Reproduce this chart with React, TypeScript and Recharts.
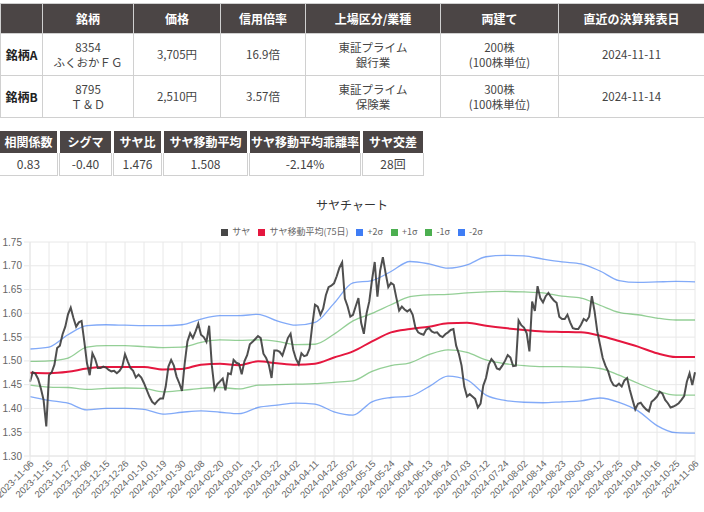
import { CartesianGrid, Line, LineChart, XAxis, YAxis } from "recharts";

const tickLabels = [
  "2023-11-06", "2023-11-15", "2023-11-27", "2023-12-06", "2023-12-15", "2023-12-26",
  "2024-01-10", "2024-01-19", "2024-01-30", "2024-02-08", "2024-02-20", "2024-03-01",
  "2024-03-12", "2024-03-22", "2024-04-02", "2024-04-11", "2024-04-22", "2024-05-02",
  "2024-05-15", "2024-05-24", "2024-06-04", "2024-06-13", "2024-06-24", "2024-07-03",
  "2024-07-12", "2024-07-24", "2024-08-02", "2024-08-14", "2024-08-23", "2024-09-03",
  "2024-09-12", "2024-09-25", "2024-10-04", "2024-10-16", "2024-10-25", "2024-11-06",
];

// サヤ (daily spread ratio), one value per trading day
const saya = [
  1.456, 1.476, 1.473, 1.462, 1.442, 1.418, 1.362, 1.47, 1.476, 1.492,
  1.527, 1.532, 1.556, 1.572, 1.598, 1.612, 1.59, 1.572, 1.581, 1.584,
  1.541, 1.495, 1.47, 1.516, 1.504, 1.485, 1.485, 1.488, 1.486, 1.481,
  1.478, 1.479, 1.474, 1.479, 1.488, 1.514, 1.499, 1.485, 1.479, 1.465,
  1.471, 1.465, 1.453, 1.439, 1.425, 1.414, 1.409, 1.416, 1.421, 1.421,
  1.446, 1.488, 1.502, 1.49, 1.467, 1.453, 1.437, 1.495, 1.541, 1.558,
  1.548, 1.562, 1.578, 1.555, 1.55, 1.54, 1.574, 1.49, 1.44, 1.451,
  1.457, 1.463, 1.438, 1.474, 1.472, 1.502, 1.496, 1.494, 1.472, 1.499,
  1.512, 1.535, 1.54, 1.546, 1.552, 1.548, 1.515, 1.506, 1.492, 1.464,
  1.522, 1.522, 1.519, 1.511, 1.529, 1.548, 1.557, 1.523, 1.504, 1.493,
  1.516, 1.51, 1.512, 1.526, 1.575, 1.618, 1.614, 1.597, 1.61, 1.638,
  1.655, 1.658, 1.663, 1.678, 1.696, 1.707, 1.631, 1.615, 1.593, 1.597,
  1.615, 1.632, 1.58, 1.557, 1.6, 1.625, 1.67, 1.708, 1.635, 1.69,
  1.718, 1.685, 1.655, 1.664, 1.66, 1.632, 1.606, 1.614, 1.608, 1.604,
  1.608, 1.597, 1.57, 1.56, 1.557, 1.555, 1.566, 1.569, 1.562, 1.559,
  1.56, 1.553, 1.55, 1.556, 1.56, 1.565, 1.567, 1.532, 1.515, 1.49,
  1.446, 1.425, 1.43, 1.425, 1.42, 1.402, 1.41, 1.448, 1.464, 1.492,
  1.504, 1.497, 1.484, 1.482, 1.49, 1.5, 1.512, 1.507, 1.489, 1.49,
  1.585, 1.575, 1.57, 1.558, 1.52, 1.625, 1.605, 1.657, 1.632, 1.623,
  1.636, 1.643, 1.634, 1.627, 1.622, 1.593, 1.588, 1.588, 1.597, 1.581,
  1.569, 1.567, 1.567, 1.576, 1.588, 1.584, 1.593, 1.636, 1.604, 1.562,
  1.534, 1.506, 1.49, 1.478, 1.459, 1.449, 1.447, 1.452, 1.446, 1.459,
  1.464, 1.439, 1.418, 1.398, 1.41, 1.412, 1.404, 1.398, 1.394, 1.414,
  1.419, 1.425, 1.435, 1.431, 1.418, 1.411, 1.402, 1.404, 1.407, 1.411,
  1.418, 1.426, 1.456, 1.474, 1.449, 1.476,
];

// bands read at every tick date (every 7th trading day)
const movingAvg = [
  1.475, 1.474, 1.477, 1.484, 1.487, 1.487, 1.487, 1.482, 1.483, 1.492, 1.494, 1.491,
  1.499, 1.495, 1.492, 1.494, 1.507, 1.52, 1.541, 1.56, 1.567, 1.572, 1.579, 1.58,
  1.574, 1.569, 1.565, 1.562, 1.561, 1.56, 1.553, 1.542, 1.53, 1.516, 1.508, 1.508,
];
const plus2 = [
  1.525, 1.529, 1.555, 1.574, 1.576, 1.575, 1.574, 1.574, 1.576, 1.588, 1.595, 1.595,
  1.598, 1.584, 1.575, 1.581, 1.621, 1.664, 1.669, 1.688, 1.709, 1.704, 1.695, 1.702,
  1.719, 1.722, 1.721, 1.714, 1.708, 1.704, 1.689, 1.669, 1.665, 1.666, 1.667, 1.666,
];
const plus1 = [
  1.499, 1.5, 1.506, 1.529, 1.532, 1.532, 1.53, 1.528, 1.529, 1.539, 1.544, 1.543,
  1.544, 1.541, 1.534, 1.535, 1.556, 1.584, 1.6, 1.618, 1.635, 1.639, 1.64, 1.643,
  1.645, 1.646, 1.645, 1.643, 1.636, 1.632, 1.617, 1.602, 1.597, 1.59, 1.586, 1.586,
];
const minus1 = [
  1.449, 1.445, 1.444, 1.44, 1.442, 1.443, 1.442, 1.435, 1.438, 1.442, 1.444, 1.441,
  1.449, 1.45, 1.451, 1.452, 1.455, 1.458, 1.478, 1.49, 1.496, 1.513, 1.523, 1.518,
  1.502, 1.494, 1.49, 1.488, 1.488, 1.487, 1.484, 1.47, 1.453, 1.437, 1.428, 1.428,
];
const minus2 = [
  1.425, 1.417, 1.411, 1.397, 1.4, 1.4, 1.398, 1.388, 1.392, 1.395, 1.392, 1.389,
  1.402, 1.407, 1.411, 1.409, 1.393, 1.386, 1.414, 1.423, 1.426, 1.446, 1.468, 1.46,
  1.428, 1.417, 1.413, 1.412, 1.414, 1.416, 1.422, 1.413, 1.395, 1.364, 1.349, 1.348,
];

const yTicks = [1.3, 1.35, 1.4, 1.45, 1.5, 1.55, 1.6, 1.65, 1.7, 1.75];

const pairHeaders = ["", "銘柄", "価格", "信用倍率", "上場区分/業種", "両建て", "直近の決算発表日"];
const pairRows = [
  ["銘柄A", "8354\nふくおかＦＧ", "3,705円", "16.9倍", "東証プライム\n銀行業", "200株\n(100株単位)", "2024-11-11"],
  ["銘柄B", "8795\nＴ＆Ｄ", "2,510円", "3.57倍", "東証プライム\n保険業", "300株\n(100株単位)", "2024-11-14"],
];
const colWidths = [42, 91, 87, 85, 135, 118, 146];

const statLabels = ["相関係数", "シグマ", "サヤ比", "サヤ移動平均", "サヤ移動平均乖離率", "サヤ交差"];
const statValues = ["0.83", "-0.40", "1.476", "1.508", "-2.14%", "28回"];
const statLefts = [0, 60, 114, 164, 250, 363];
const statWidths = [57, 51, 47, 83, 110, 60];

const legendItems = [
  { name: "サヤ", color: "#474747" },
  { name: "サヤ移動平均(75日)", color: "#e5173f" },
  { name: "+2σ", color: "#3f7df5" },
  { name: "+1σ", color: "#4caf50" },
  { name: "-1σ", color: "#4caf50" },
  { name: "-2σ", color: "#3f7df5" },
];

const chartData = saya.map((v, i) => {
  const row: Record<string, number> = { i, saya: v };
  if (i % 7 === 0) {
    const k = i / 7;
    row.ma = movingAvg[k];
    row.p2 = plus2[k];
    row.p1 = plus1[k];
    row.m1 = minus1[k];
    row.m2 = minus2[k];
  }
  return row;
});

const HEAD_BG = "#4b4545";
const JP = "'Noto Sans CJK JP', 'Noto Sans', sans-serif";
const CHART_FONT = "'Liberation Sans', Arial, 'Noto Sans CJK JP', sans-serif";

function XTick({ x, y, payload }: { x?: number; y?: number; payload?: { value: number } }) {
  const label = tickLabels[Math.round((payload?.value ?? 0) / 7)];
  return (
    <g transform={`translate(${(x ?? 0) + 2},${(y ?? 0) - 2})`}>
      <text textAnchor="end" transform="rotate(-45)" dy="0.35em" fontSize={9.5} fill="#666" fontFamily={CHART_FONT}>
        {label}
      </text>
    </g>
  );
}

function MultiLine({ text }: { text: string }) {
  const parts = text.split("\n");
  return (
    <>
      {parts.map((p, idx) => (
        <div key={idx} style={{ lineHeight: "15px", height: 15 }}>
          {p}
        </div>
      ))}
    </>
  );
}

export default function App() {
  return (
    <div
      style={{
        position: "absolute",
        left: 0,
        top: 0,
        width: 704,
        height: 512,
        background: "#fff",
        overflow: "hidden",
        fontFamily: JP,
        color: "#333",
      }}
    >
      <table
        style={{
          position: "absolute",
          top: 3,
          left: 0,
          width: 704,
          borderCollapse: "collapse",
          tableLayout: "fixed",
          fontSize: 11.5,
          lineHeight: "15px",
        }}
      >
        <colgroup>
          {colWidths.map((w, idx) => (
            <col key={idx} style={{ width: w }} />
          ))}
        </colgroup>
        <thead>
          <tr style={{ height: 30 }}>
            {pairHeaders.map((h, idx) => (
              <th
                key={idx}
                style={{
                  background: HEAD_BG,
                  color: "#fff",
                  border: "1px solid #d0d0d0",
                  fontWeight: 700,
                  fontSize: 12,
                  padding: 0,
                }}
              >
                {h}
              </th>
            ))}
          </tr>
        </thead>
        <tbody>
          {pairRows.map((row, r) => (
            <tr key={r} style={{ height: 42 }}>
              {row.map((cell, c) => (
                <td
                  key={c}
                  style={{
                    border: "1px solid #d0d0d0",
                    textAlign: "center",
                    padding: 0,
                    fontWeight: c === 0 ? 700 : 400,
                    fontSize: c === 0 ? 12 : 11.5,
                    color: c === 0 ? "#222" : "#444",
                  }}
                >
                  <MultiLine text={cell} />
                </td>
              ))}
            </tr>
          ))}
        </tbody>
      </table>

      {statLabels.map((label, idx) => (
        <div
          key={label}
          style={{ position: "absolute", top: 131, left: statLefts[idx], width: statWidths[idx], fontSize: 12 }}
        >
          <div
            style={{
              height: 22,
              lineHeight: "22px",
              background: HEAD_BG,
              color: "#fff",
              fontWeight: 700,
              textAlign: "center",
              whiteSpace: "nowrap",
            }}
          >
            {label}
          </div>
          <div
            style={{
              height: 22,
              lineHeight: "22px",
              border: "1px solid #d0d0d0",
              borderTop: "none",
              textAlign: "center",
              color: "#444",
              boxSizing: "content-box",
              marginLeft: -1,
              marginRight: -1,
            }}
          >
            {statValues[idx]}
          </div>
        </div>
      ))}

      <div
        style={{
          position: "absolute",
          top: 196,
          left: 0,
          width: 704,
          textAlign: "center",
          fontSize: 12,
          lineHeight: "18px",
          color: "#333",
        }}
      >
        サヤチャート
      </div>

      <div
        style={{
          position: "absolute",
          top: 225,
          left: 0,
          width: 704,
          height: 14,
          display: "flex",
          justifyContent: "center",
          alignItems: "center",
          gap: 8,
          fontSize: 9,
          color: "#666",
        }}
      >
        {legendItems.map((item) => (
          <div key={item.name} style={{ display: "flex", alignItems: "center" }}>
            <span style={{ display: "inline-block", width: 7, height: 7, background: item.color, marginRight: 4 }} />
            <span style={{ lineHeight: "12px" }}>{item.name}</span>
          </div>
        ))}
      </div>

      <div style={{ position: "absolute", top: 192, left: 0 }}>
        <LineChart width={704} height={320} data={chartData} margin={{ top: 50, right: 9, left: 0, bottom: 0 }}>
          <CartesianGrid stroke="#e8e8e8" />
          <XAxis
            dataKey="i"
            type="number"
            domain={[0, 245]}
            ticks={tickLabels.map((_, k) => k * 7)}
            interval={0}
            height={56}
            tick={<XTick />}
            tickSize={8}
            tickMargin={0}
            tickLine={{ stroke: "#e8e8e8" }}
            axisLine={{ stroke: "#e8e8e8" }}
          />
          <YAxis
            type="number"
            domain={[1.3, 1.75]}
            ticks={yTicks}
            interval={0}
            width={30}
            tickFormatter={(v) => Number(v).toFixed(2)}
            tick={{ fontSize: 10, fill: "#666", fontFamily: CHART_FONT }}
            tickSize={6}
            tickMargin={2}
            tickLine={{ stroke: "#e8e8e8" }}
            axisLine={{ stroke: "#e8e8e8" }}
          />
          <Line dataKey="m2" type="monotone" stroke="rgba(63,125,245,0.65)" strokeWidth={1.3} dot={false} activeDot={false} connectNulls isAnimationActive={false} />
          <Line dataKey="m1" type="monotone" stroke="rgba(76,175,80,0.6)" strokeWidth={1.3} dot={false} activeDot={false} connectNulls isAnimationActive={false} />
          <Line dataKey="p1" type="monotone" stroke="rgba(76,175,80,0.6)" strokeWidth={1.3} dot={false} activeDot={false} connectNulls isAnimationActive={false} />
          <Line dataKey="p2" type="monotone" stroke="rgba(63,125,245,0.65)" strokeWidth={1.3} dot={false} activeDot={false} connectNulls isAnimationActive={false} />
          <Line dataKey="ma" type="monotone" stroke="#e5173f" strokeWidth={2} dot={false} activeDot={false} connectNulls isAnimationActive={false} />
          <Line dataKey="saya" type="linear" stroke="rgba(60,60,60,0.9)" strokeWidth={2} dot={false} activeDot={false} isAnimationActive={false} />
        </LineChart>
      </div>
    </div>
  );
}
